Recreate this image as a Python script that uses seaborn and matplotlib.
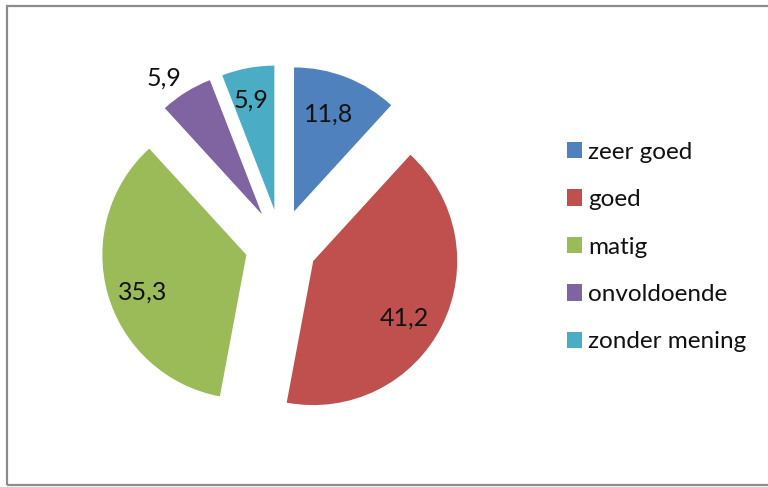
import numpy as np
import matplotlib
matplotlib.use("Agg")
import matplotlib.pyplot as plt
from matplotlib.patches import Patch, Rectangle
import seaborn as sns

categories = ["zeer goed", "goed", "matig", "onvoldoende", "zonder mening"]
values = [11.8, 41.2, 35.3, 5.9, 5.9]
value_labels = ["11,8", "41,2", "35,3", "5,9", "5,9"]
colors = ["#4F81BD", "#C0504D", "#9BBB59", "#8064A2", "#4BACC6"]

sns.set_theme(style="white")
plt.rcParams["font.family"] = ["Lato", "DejaVu Sans"]

W, H = 768, 487
fig = plt.figure(figsize=(W / 100, H / 100), dpi=100)
fig.patch.set_facecolor("white")

# pie geometry in pixels
cx, cy, R = 281, 245, 144
ax = fig.add_axes([0, 0, 1, 1])
wedges, _ = ax.pie(values, colors=colors, startangle=90, counterclock=False,
                   explode=[0.25] * len(values), radius=1.0,
                   wedgeprops=dict(linewidth=0))
ax.set_aspect("auto")
ax.set_xlim(-cx / R, (W - cx) / R)
ax.set_ylim(-(H - cy) / R, cy / R)
ax.axis("off")

label_dist = [0.73, 0.74, 0.76, 1.18, 0.79]
label_rot = [1.8, -4.8, 2.8, 3.5, 1.1]
for w, lab, d, rot in zip(wedges, value_labels, label_dist, label_rot):
    mid = np.deg2rad((w.theta1 + w.theta2) / 2 + rot)
    x = w.center[0] + d * np.cos(mid)
    y = w.center[1] + d * np.sin(mid)
    ax.text(x, y, lab, ha="center", va="center_baseline", fontsize=18, color="#111111")

handles = [Patch(facecolor=c, edgecolor="none") for c in colors]
fig.legend(handles, categories, loc="center left",
           bbox_to_anchor=(567 / W, 1 - 247 / H), frameon=False,
           fontsize=17.5, handlelength=0.62, handleheight=0.68,
           handletextpad=0.25, labelspacing=1.09, borderpad=0, borderaxespad=0,
           labelcolor="#111111")

fig.add_artist(Rectangle((7 / W, 2 / H), 1.0, (H - 8) / H, transform=fig.transFigure,
                         fill=False, edgecolor="#8c8c8c", linewidth=1.6))

fig.savefig("out.png", dpi=100, facecolor="white")
